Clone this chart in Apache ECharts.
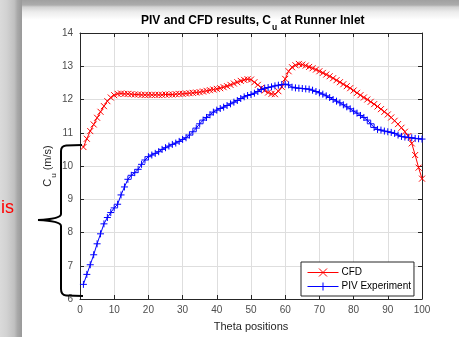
<!DOCTYPE html>
<html>
<head>
<meta charset="utf-8">
<script src="https://cdn.jsdelivr.net/npm/echarts@6/dist/echarts.min.js"></script>
<style>
html,body{margin:0;padding:0;background:#fff;}
#chart{width:459px;height:337px;}
</style>
</head>
<body>
<div id="chart"></div>
<script>
// ---- data ----
const thetaPositions = [1,2,3,4,5,6,7,8,9,10,11,12,13,14,15,16,17,18,19,20,
  21,22,23,24,25,26,27,28,29,30,31,32,33,34,35,36,37,38,39,40,
  41,42,43,44,45,46,47,48,49,50,51,52,53,54,55,56,57,58,59,60,
  61,62,63,64,65,66,67,68,69,70,71,72,73,74,75,76,77,78,79,80,
  81,82,83,84,85,86,87,88,89,90,91,92,93,94,95,96,97,98,99,100];

const cfdValues = [10.57,10.82,11.05,11.25,11.45,11.63,11.80,11.95,12.06,12.13,
  12.17,12.18,12.17,12.17,12.16,12.15,12.15,12.14,12.14,12.14,
  12.14,12.14,12.14,12.14,12.15,12.15,12.15,12.16,12.17,12.17,
  12.18,12.19,12.20,12.21,12.22,12.24,12.26,12.28,12.30,12.32,
  12.34,12.37,12.40,12.44,12.48,12.52,12.56,12.59,12.61,12.60,
  12.52,12.44,12.35,12.27,12.21,12.17,12.16,12.25,12.38,12.62,
  12.85,12.97,13.03,13.07,13.05,13.02,12.98,12.94,12.90,12.85,
  12.80,12.75,12.70,12.64,12.58,12.52,12.46,12.40,12.34,12.27,
  12.20,12.13,12.06,12.00,11.93,11.86,11.79,11.71,11.63,11.55,
  11.46,11.36,11.26,11.15,11.03,10.90,10.68,10.33,9.95,9.62];

const pivValues = [6.44,6.74,7.03,7.33,7.66,7.96,8.26,8.45,8.60,8.74,
  8.85,9.13,9.37,9.60,9.72,9.80,9.90,10.05,10.18,10.28,
  10.33,10.38,10.43,10.50,10.55,10.60,10.65,10.69,10.74,10.80,
  10.85,10.93,11.03,11.14,11.27,11.38,11.46,11.54,11.62,11.68,
  11.73,11.77,11.82,11.87,11.92,11.97,12.03,12.08,12.12,12.15,
  12.19,12.24,12.30,12.34,12.36,12.38,12.41,12.43,12.45,12.46,
  12.44,12.37,12.35,12.34,12.33,12.32,12.31,12.28,12.24,12.20,
  12.16,12.11,12.06,12.00,11.95,11.90,11.84,11.78,11.72,11.65,
  11.59,11.52,11.46,11.38,11.27,11.16,11.10,11.08,11.05,11.03,
  11.01,10.98,10.93,10.89,10.87,10.86,10.85,10.83,10.82,10.81];

const seriesNames = ['CFD', 'PIV Experiment'];

// ---- chart ----
const chart = echarts.init(document.getElementById('chart'), null, {renderer:'canvas'});
const FONT = 'Liberation Sans, Arial, Helvetica, sans-serif';
const AX = '#262626';
const toPairs = vals => thetaPositions.map((t,i)=>[t, vals[i]]);

const X_MARK = 'path://M0,0L10,10M10,0L0,10';
const PLUS_MARK = 'path://M5,0L5,10M0,5L10,5';

const axisCommon = {
  axisLine:{show:true, onZero:false, lineStyle:{color:AX, width:1}},
  axisTick:{show:true, inside:true, length:4, lineStyle:{color:AX}},
};

function grad(x2, y2, stops){
  return {type:'linear', x:0, y:0, x2:x2, y2:y2,
    colorStops:stops.map(s=>({offset:s[0], color:s[1]}))};
}
const braceStyle = {stroke:'#000', lineWidth:2, fill:'none'};
function bLine(x1,y1,x2,y2){
  return {type:'line', silent:true, z:100, shape:{x1,y1,x2,y2}, style:braceStyle};
}
function bCurve(x1,y1,cx,cy,x2,y2){
  return {type:'bezierCurve', silent:true, z:100,
    shape:{x1,y1,x2,y2,cpx1:cx,cpy1:cy}, style:braceStyle};
}

const option = {
  animation:false,
  backgroundColor:'#fff',
  textStyle:{fontFamily:FONT},
  title:{
    left:136, top:10,
    text:'{a|PIV and CFD results, C}{s|u}{a| at Runner Inlet}',
    textStyle:{
      rich:{
        a:{fontFamily:FONT, fontSize:12, fontWeight:'bold', color:'#000', lineHeight:15, verticalAlign:'top'},
        s:{fontFamily:FONT, fontSize:8.5, fontWeight:'bold', color:'#000', lineHeight:8, padding:[8,0,0,1], verticalAlign:'top'}
      }
    }
  },
  legend:{
    left:301, top:262,
    orient:'vertical',
    data:seriesNames,
    backgroundColor:'#fff',
    borderColor:AX, borderWidth:1,
    padding:[4,3,3,6],
    itemGap:1,
    itemWidth:31, itemHeight:10,
    lineStyle:{width:1},
    itemStyle:{borderWidth:1},
    textStyle:{fontFamily:FONT, fontSize:10, color:'#000', padding:[0,0,0,-2]}
  },
  grid:{left:80, top:33, right:37, bottom:35, containLabel:false},
  xAxis:[{
    type:'value', min:0, max:100, interval:10, position:'bottom',
    name:'Theta positions', nameLocation:'middle', nameGap:22,
    nameTextStyle:{fontFamily:FONT, fontSize:11, color:AX},
    ...axisCommon,
    axisLabel:{show:true, margin:6, fontFamily:FONT, fontSize:10, color:'#4d4d4d'},
    splitLine:{show:true, lineStyle:{color:'#dedede', width:1}}
  },{
    type:'value', min:0, max:100, interval:10, position:'top',
    ...axisCommon, axisLabel:{show:false}, splitLine:{show:false}
  }],
  yAxis:[{
    type:'value', min:6, max:14, interval:1, position:'left',
    name:'{a|C}{s|u}{a| (m/s)}', nameLocation:'middle', nameGap:24,
    nameMoveOverlap:false,
    nameTextStyle:{rich:{
      a:{fontFamily:FONT, fontSize:11, color:AX, lineHeight:14, verticalAlign:'top'},
      s:{fontFamily:FONT, fontSize:8, color:AX, lineHeight:8, padding:[8,0,0,1], verticalAlign:'top'}
    }},
    ...axisCommon,
    axisLabel:{show:true, margin:7, fontFamily:FONT, fontSize:10, color:'#4d4d4d'},
    splitLine:{show:true, lineStyle:{color:'#dedede', width:1}}
  },{
    type:'value', min:6, max:14, interval:1, position:'right',
    ...axisCommon, axisLabel:{show:false}, splitLine:{show:false}
  }],
  series:[{
    name:seriesNames[0], type:'line', data:toPairs(cfdValues),
    showAllSymbol:true, symbol:X_MARK, symbolSize:6,
    lineStyle:{color:'#ff0000', width:1},
    itemStyle:{color:'none', borderColor:'#ff0000', borderWidth:1},
    z:3
  },{
    name:seriesNames[1], type:'line', data:toPairs(pivValues),
    showAllSymbol:true, symbol:PLUS_MARK, symbolSize:7,
    lineStyle:{color:'#0000ff', width:1},
    itemStyle:{color:'none', borderColor:'#0000ff', borderWidth:1},
    z:4
  }],
  graphic:[
    {type:'rect', silent:true, z:-10, shape:{x:22, y:0, width:437, height:20},
      style:{fill:grad(0,1,[[0,'#a0a0a0'],[0.25,'#acacac'],[0.35,'#d2d2d2'],[0.6,'#ececec'],[1,'#ffffff']])}},
    {type:'rect', silent:true, z:-9, shape:{x:0, y:0, width:22, height:337},
      style:{fill:grad(1,0,[[0,'#dadada'],[0.3,'#d2d2d2'],[0.65,'#c0c0c0'],[0.8,'#a8a8a8'],[1,'#999999']])}},
    {type:'text', silent:true, z:100, x:1, y:199,
      style:{text:'is', fill:'#ff0000', font:'18px Liberation Sans, Arial, sans-serif'}},
    bLine(82,145,66,145.5),
    bCurve(66,145.5,61,146,61,151),
    bLine(61,151,61,214),
    bCurve(61,214,61,219,38,220),
    bCurve(38,220,61,221,61,226),
    bLine(61,226,61,289),
    bCurve(61,289,61,295,66,295.5),
    bLine(66,295.5,83,296)
  ]
};
chart.setOption(option);
</script>
</body>
</html>
